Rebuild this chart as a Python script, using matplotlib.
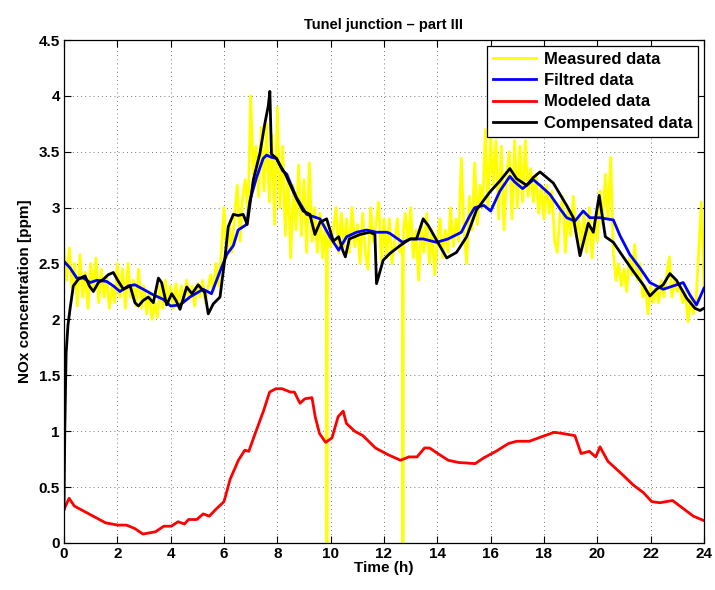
import numpy as np
import matplotlib
matplotlib.use("Agg")
import matplotlib.pyplot as plt
from matplotlib.ticker import FuncFormatter

plt.rcParams['font.family'] = ['Liberation Sans', 'DejaVu Sans']
plt.rcParams['font.weight'] = 'bold'

# measured NOx (ppm), sampled roughly every 6 min, with two sensor drop-outs
meas_t = [0.0, 0.1, 0.2, 0.3, 0.4, 0.5, 0.6, 0.7, 0.8, 0.9,
          1.0, 1.1, 1.2, 1.3, 1.4, 1.5, 1.6, 1.7, 1.8, 1.9,
          2.0, 2.1, 2.2, 2.3, 2.4, 2.5, 2.6, 2.7, 2.8, 2.9,
          3.0, 3.1, 3.2, 3.3, 3.4, 3.5, 3.6, 3.7, 3.8, 3.9,
          4.0, 4.1, 4.2, 4.3, 4.4, 4.5, 4.6, 4.7, 4.8, 4.9,
          5.0, 5.1, 5.2, 5.3, 5.4, 5.5, 5.6, 5.7, 5.8, 5.9,
          6.0, 6.1, 6.2, 6.3, 6.4, 6.5, 6.6, 6.7, 6.8, 6.9,
          7.0, 7.1, 7.2, 7.3, 7.4, 7.5, 7.6, 7.7, 7.8, 7.9,
          8.0, 8.1, 8.2, 8.3, 8.4, 8.5, 8.6, 8.7, 8.8, 8.9,
          9.0, 9.1, 9.2, 9.3, 9.4, 9.5, 9.6, 9.7, 9.8, 9.84, 9.86, 9.88, 9.9,
          10.0, 10.1, 10.2, 10.3, 10.4, 10.5, 10.6, 10.7, 10.8, 10.9,
          11.0, 11.1, 11.2, 11.3, 11.4, 11.5, 11.6, 11.7, 11.8, 11.9,
          12.0, 12.1, 12.2, 12.3, 12.4, 12.5, 12.6, 12.69, 12.71, 12.73, 12.8, 12.9,
          13.0, 13.1, 13.2, 13.3, 13.4, 13.5, 13.6, 13.7, 13.8, 13.9,
          14.0, 14.1, 14.2, 14.3, 14.4, 14.5, 14.6, 14.7, 14.8, 14.9,
          15.0, 15.1, 15.2, 15.3, 15.4, 15.5, 15.6, 15.7, 15.8, 15.9,
          16.0, 16.1, 16.2, 16.3, 16.4, 16.5, 16.6, 16.7, 16.8, 16.9,
          17.0, 17.1, 17.2, 17.3, 17.4, 17.5, 17.6, 17.7, 17.8, 17.9,
          18.0, 18.1, 18.2, 18.3, 18.4, 18.5, 18.6, 18.7, 18.8, 18.9,
          19.0, 19.1, 19.2, 19.3, 19.4, 19.5, 19.6, 19.7, 19.8, 19.9,
          20.0, 20.1, 20.2, 20.3, 20.4, 20.5, 20.6, 20.7, 20.8, 20.9,
          21.0, 21.1, 21.2, 21.3, 21.4, 21.5, 21.6, 21.7, 21.8, 21.9,
          22.0, 22.1, 22.2, 22.3, 22.4, 22.5, 22.6, 22.7, 22.8, 22.9,
          23.0, 23.1, 23.2, 23.3, 23.4, 23.5, 23.6, 23.7, 23.8, 23.9,
          24.0]
meas_v = [2.62, 2.35, 2.64, 2.28, 2.50, 2.12, 2.58, 2.20, 2.42, 2.10,
          2.50, 2.28, 2.55, 2.15, 2.45, 2.20, 2.38, 2.10, 2.30, 2.15,
          2.50, 2.20, 2.45, 2.10, 2.50, 2.20, 2.35, 2.12, 2.45, 2.10,
          2.30, 2.05, 2.25, 2.00, 2.15, 2.02, 2.30, 2.10, 2.35, 2.15,
          2.30, 2.10, 2.32, 2.12, 2.30, 2.15, 2.35, 2.18, 2.30, 2.12,
          2.32, 2.20, 2.35, 2.15, 2.28, 2.40, 2.25, 2.50, 2.30, 2.60,
          3.00, 2.55, 2.85, 2.60, 2.95, 3.20, 2.70, 3.10, 3.25, 2.90,
          4.00, 3.30, 3.55, 3.10, 3.72, 3.15, 3.75, 3.05, 3.65, 2.85,
          3.90, 3.00, 3.55, 2.75, 3.30, 2.55, 3.20, 2.80, 3.38, 2.75,
          3.25, 2.60, 3.40, 2.70, 3.00, 2.60, 2.95, 2.55, 2.85, 2.60, 0.0, 2.70, 2.75,
          2.65, 2.80, 3.00, 2.60, 2.95, 2.65, 2.90, 2.60, 3.00, 2.65,
          2.85, 2.50, 2.95, 2.60, 2.45, 3.00, 2.70, 2.85, 3.05, 2.50,
          2.90, 2.55, 2.90, 2.50, 2.70, 2.90, 2.60, 2.70, 0.0, 2.80, 2.95, 2.70,
          3.00, 2.55, 2.80, 2.35, 2.85, 2.60, 2.95, 2.50, 2.80, 2.40,
          2.70, 2.90, 2.55, 2.80, 2.60, 3.00, 2.65, 2.90, 2.70, 3.44,
          2.80, 2.50, 3.10, 2.80, 3.40, 2.85, 3.20, 3.00, 3.70, 3.00,
          3.65, 3.20, 3.60, 2.90, 3.55, 2.80, 3.30, 3.50, 2.90, 3.60,
          3.00, 3.55, 3.05, 3.60, 3.10, 3.35, 3.05, 3.30, 2.95, 3.20,
          2.90, 3.20, 2.95, 3.15, 2.70, 2.60, 2.95, 3.10, 2.60, 3.00,
          2.75, 3.10, 2.75, 2.90, 2.65, 2.95, 2.60, 3.00, 2.55, 2.90,
          2.70, 3.15, 2.85, 3.30, 2.90, 3.45, 2.60, 2.35, 2.50, 2.30,
          2.45, 2.25, 2.55, 2.40, 2.67, 2.35, 2.50, 2.20, 2.30, 2.05,
          2.30, 2.15, 2.30, 2.15, 2.35, 2.20, 2.40, 2.56, 2.20, 2.35,
          2.25, 2.30, 2.15, 2.25, 1.98, 2.20, 2.05, 2.15, 2.60, 3.05,
          2.30]

# filtered signal
filt_t = [0.0, 0.23, 0.48, 0.73, 0.98, 1.23, 1.6, 1.85, 2.1, 2.41,
          2.66, 2.97, 3.35, 3.72, 4.0, 4.35, 4.72, 5.22, 5.53, 5.85,
          6.1, 6.35, 6.53, 6.85, 6.97, 7.22, 7.47, 7.6, 7.78, 7.97,
          8.2, 8.35, 8.72, 9.1, 9.6, 9.97, 10.3, 10.6, 10.97, 11.35,
          11.72, 12.1, 12.22, 12.7, 13.0, 13.47, 13.97, 14.4, 14.9, 15.2,
          15.4, 15.75, 16.0, 16.35, 16.72, 16.9, 17.2, 17.6, 17.85, 18.22,
          18.6, 18.85, 19.16, 19.47, 19.72, 20.1, 20.6, 20.85, 21.22, 21.6,
          21.97, 22.47, 22.85, 23.22, 23.47, 23.72, 24.0]
filt_v = [2.52, 2.46, 2.37, 2.37, 2.33, 2.35, 2.34, 2.30, 2.25, 2.30,
          2.31, 2.27, 2.22, 2.18, 2.12, 2.13, 2.20, 2.27, 2.23, 2.43,
          2.58, 2.66, 2.80, 2.85, 3.06, 3.27, 3.44, 3.47, 3.45, 3.44,
          3.33, 3.30, 3.09, 2.94, 2.90, 2.74, 2.62, 2.74, 2.78, 2.80,
          2.78, 2.78, 2.77, 2.69, 2.72, 2.72, 2.69, 2.72, 2.78, 2.92,
          3.00, 3.02, 2.97, 3.15, 3.28, 3.23, 3.17, 3.25, 3.20, 3.12,
          2.99, 2.91, 2.88, 2.97, 2.91, 2.91, 2.89, 2.75, 2.58, 2.46,
          2.33, 2.27, 2.30, 2.33, 2.22, 2.13, 2.28]

# model output
model_t = [0.0, 0.19, 0.39, 0.78, 1.25, 1.56, 2.02, 2.34, 2.65, 2.96,
           3.43, 3.74, 4.02, 4.28, 4.52, 4.67, 4.98, 5.22, 5.45, 5.69,
           6.0, 6.23, 6.54, 6.78, 6.93, 7.17, 7.48, 7.71, 7.94, 8.18,
           8.49, 8.64, 8.85, 9.03, 9.3, 9.42, 9.58, 9.81, 10.05, 10.28,
           10.47, 10.59, 10.9, 11.21, 11.68, 12.15, 12.62, 12.93, 13.24, 13.52,
           13.71, 14.02, 14.41, 14.8, 15.42, 15.73, 16.2, 16.67, 16.98, 17.45,
           17.91, 18.38, 18.69, 19.16, 19.39, 19.7, 19.94, 20.1, 20.4, 20.95,
           21.34, 21.73, 22.04, 22.35, 22.82, 23.21, 23.6, 24.0]
model_v = [0.30, 0.40, 0.33, 0.28, 0.22, 0.18, 0.16, 0.16, 0.13, 0.08,
           0.10, 0.15, 0.15, 0.19, 0.17, 0.21, 0.21, 0.26, 0.24, 0.30,
           0.37, 0.57, 0.74, 0.83, 0.82, 0.98, 1.18, 1.35, 1.38, 1.38,
           1.35, 1.35, 1.25, 1.29, 1.30, 1.13, 0.98, 0.90, 0.94, 1.13,
           1.18, 1.07, 1.00, 0.96, 0.85, 0.79, 0.74, 0.77, 0.77, 0.85,
           0.85, 0.80, 0.74, 0.72, 0.71, 0.76, 0.82, 0.89, 0.91, 0.91,
           0.95, 0.99, 0.98, 0.96, 0.80, 0.82, 0.77, 0.86, 0.73, 0.61,
           0.52, 0.45, 0.37, 0.36, 0.38, 0.31, 0.24, 0.20]

# compensated model output
comp_t = [0.0, 0.03, 0.08, 0.15, 0.23, 0.35, 0.54, 0.79, 0.95, 1.1,
          1.29, 1.48, 1.66, 1.85, 2.04, 2.23, 2.48, 2.66, 2.79, 2.97,
          3.16, 3.35, 3.54, 3.66, 3.85, 4.04, 4.2, 4.35, 4.6, 4.8,
          5.03, 5.28, 5.41, 5.6, 5.85, 6.03, 6.16, 6.35, 6.53, 6.72,
          6.87, 7.1, 7.35, 7.53, 7.66, 7.72, 7.78, 7.97, 8.1, 8.28,
          8.72, 8.97, 9.22, 9.41, 9.6, 9.85, 10.1, 10.3, 10.45, 10.55,
          10.7, 11.1, 11.47, 11.66, 11.72, 11.97, 12.22, 12.6, 12.97, 13.22,
          13.47, 13.66, 13.97, 14.35, 14.72, 15.1, 15.47, 15.97, 16.35, 16.72,
          16.97, 17.35, 17.6, 17.85, 18.35, 18.85, 19.1, 19.35, 19.66, 19.85,
          20.07, 20.3, 20.6, 20.97, 21.35, 21.72, 21.97, 22.22, 22.47, 22.72,
          22.97, 23.35, 23.66, 23.85, 24.0]
comp_v = [0.30, 1.00, 1.70, 1.95, 2.10, 2.30, 2.36, 2.39, 2.30, 2.25,
          2.33, 2.36, 2.40, 2.42, 2.34, 2.27, 2.30, 2.15, 2.12, 2.17,
          2.20, 2.15, 2.37, 2.33, 2.13, 2.23, 2.17, 2.09, 2.29, 2.23,
          2.31, 2.24, 2.05, 2.14, 2.20, 2.54, 2.83, 2.94, 2.93, 2.94,
          2.85, 3.25, 3.49, 3.75, 3.91, 4.04, 3.48, 3.44, 3.38, 3.31,
          3.08, 2.97, 2.94, 2.76, 2.87, 2.90, 2.70, 2.74, 2.62, 2.56,
          2.72, 2.76, 2.78, 2.76, 2.32, 2.53, 2.59, 2.66, 2.72, 2.72,
          2.90, 2.84, 2.71, 2.55, 2.60, 2.74, 2.98, 3.14, 3.24, 3.35,
          3.26, 3.20, 3.27, 3.32, 3.22, 3.02, 2.91, 2.57, 2.86, 2.78,
          3.11, 2.74, 2.69, 2.56, 2.43, 2.31, 2.21, 2.27, 2.31, 2.41,
          2.35, 2.19, 2.10, 2.08, 2.10]

fig = plt.figure(figsize=(7.15, 5.9), dpi=100)
ax = fig.add_axes([0.0895, 0.0797, 0.8951, 0.8525])

lw = 2.0
ax.plot(meas_t, meas_v, color='#ffff00', lw=lw, label='Measured data')
ax.plot(filt_t, filt_v, color='#0000ff', lw=lw, label='Filtred data')
ax.plot(model_t, model_v, color='#ff0000', lw=lw, label='Modeled data')
ax.plot(comp_t, comp_v, color='black', lw=lw, label='Compensated data')

ax.set_xlim(0, 24)
ax.set_ylim(0, 4.5)
ax.set_xticks(np.arange(0, 25, 2))
ax.set_yticks(np.arange(0, 4.51, 0.5))
ax.yaxis.set_major_formatter(FuncFormatter(lambda v, p: '%g' % v))

ax.grid(True, color='black', linestyle=(0, (1, 4)), linewidth=0.6, alpha=0.7)
ax.tick_params(direction='in', top=True, right=True, length=5, width=0.8,
               labelsize=11, pad=3)
for lab in ax.get_xticklabels() + ax.get_yticklabels():
    lab.set_fontweight('bold')
for s in ax.spines.values():
    s.set_linewidth(0.9)

ax.set_xlabel('Time (h)', fontsize=11, fontweight='bold', labelpad=0)
ax.set_ylabel('NOx concentration [ppm]', fontsize=11, fontweight='bold', labelpad=5)
ax.set_title('Tunel junction \u2013 part III', fontsize=10.5, fontweight='bold', pad=8)

leg = ax.legend(loc='upper right', fancybox=False, framealpha=1, edgecolor='black',
                prop={'weight': 'bold', 'size': 12}, handlelength=2.6,
                borderaxespad=0.35, labelspacing=0.38, handletextpad=0.45,
                borderpad=0.35)
leg.get_frame().set_linewidth(0.9)

fig.savefig('out.png', dpi=100)
